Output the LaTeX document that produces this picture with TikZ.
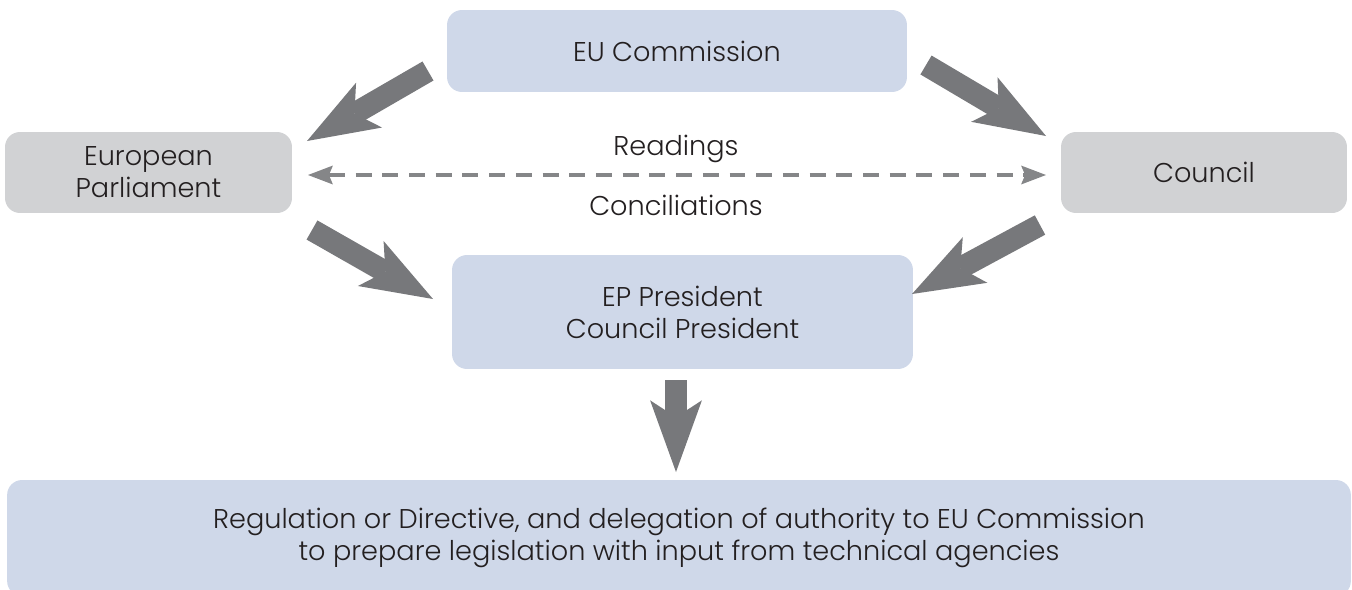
\documentclass[tikz,border=0pt]{standalone}
\usepackage{fontspec}
\setmainfont{Poppins Light}
\usetikzlibrary{arrows.meta}
\definecolor{boxblue}{HTML}{CFD8E9}
\definecolor{boxgray}{HTML}{D1D2D4}
\definecolor{arrowgray}{HTML}{77787B}
\definecolor{dashgray}{HTML}{858688}
\definecolor{textblack}{HTML}{231F20}
\begin{document}
\begin{tikzpicture}[x=0.02cm, y=-0.02cm,
    every node/.style={font=\fontsize{15.45}{18.3}\selectfont, text=textblack, align=center, inner sep=0pt, outer sep=0pt},
    bluebox/.style={fill=boxblue, rounded corners=8.5pt},
    graybox/.style={fill=boxgray, rounded corners=8.5pt},
    bigarrow/.style={draw=arrowgray, line width=12.5pt, -{Stealth[length=40.8pt, width=29.5pt, inset=9.6pt, line width=0pt]}},
    dasharrow/.style={draw=dashgray, line width=2.8pt, dash pattern=on 9.1pt off 6.1pt,
        {Stealth[length=14.2pt, width=10.8pt, inset=2.3pt, line width=0pt]}-{Stealth[length=14.2pt, width=10.8pt, inset=2.3pt, line width=0pt]}}]
    \useasboundingbox (0,0) rectangle (1352,589);
    % boxes
    \node[bluebox, minimum width=9.2cm, minimum height=1.64cm] (commission) at (677,51) {EU Commission};
    \node[graybox, minimum width=5.74cm, minimum height=1.62cm] (parliament) at (148.5,172.5) {European\\Parliament};
    \node[graybox, minimum width=5.72cm, minimum height=1.62cm] (council) at (1204,172.5) {Council};
    \node[bluebox, minimum width=9.22cm, minimum height=2.28cm] (presidents) at (682.5,312) {EP President\\Council President};
    \node[bluebox, minimum width=26.88cm, minimum height=2.32cm] (regulation) at (679,538) {Regulation or Directive, and delegation of authority to EU Commission\\to prepare legislation with input from technical agencies};
    \node (readings) at (676,149) {Readings};
    \node (conciliations) at (676,205) {Conciliations};
    % arrow ends
    \coordinate (comL) at (428,71);
    \coordinate (parT) at (307,141);
    \coordinate (comR) at (926,65);
    \coordinate (cnlT) at (1046,136);
    \coordinate (cnlB) at (1040,225);
    \coordinate (preR) at (912,294);
    \coordinate (parB) at (312,230);
    \coordinate (preL) at (433,299);
    \coordinate (preB) at (676,380);
    \coordinate (regT) at (676,472);
    \coordinate (dashL) at (308,175);
    \coordinate (dashR) at (1046,175);
    % arrows
    \draw[bigarrow] (comL) -- (parT);
    \draw[bigarrow] (comR) -- (cnlT);
    \draw[bigarrow] (cnlB) -- (preR);
    \draw[bigarrow] (parB) -- (preL);
    \draw[bigarrow] (preB) -- (regT);
    \draw[dasharrow] (dashL) -- (dashR);
\end{tikzpicture}
\end{document}
